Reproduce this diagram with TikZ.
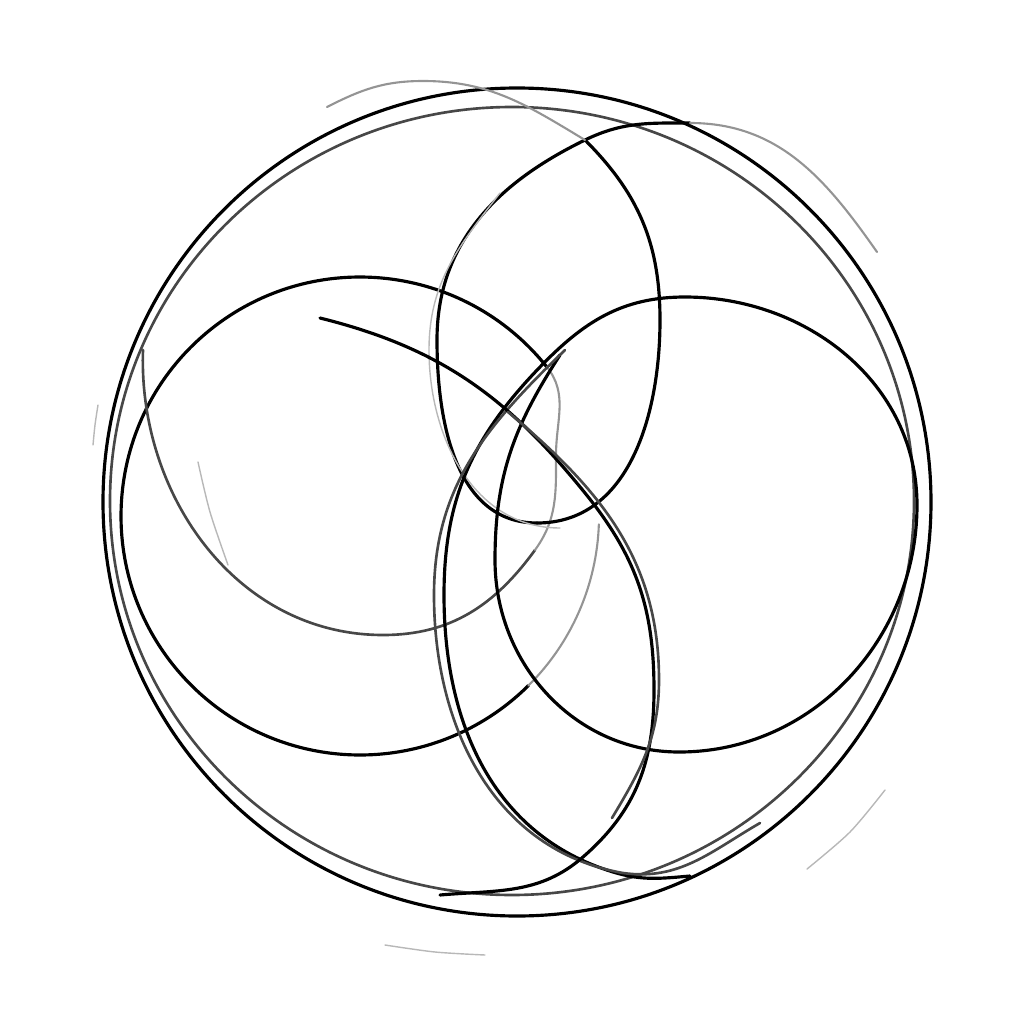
\documentclass[tikz,border=0pt]{standalone}
\usepackage{tikz}

\begin{document}
\begin{tikzpicture}[x=0.01cm, y=-0.01cm, line cap=round, line join=round,
		ink/.style={black, line width=0.9pt},
		halfink/.style={black!72, line width=0.75pt},
		lightink/.style={black!42, line width=0.6pt},
		faintink/.style={black!28, line width=0.4pt}]
			\useasboundingbox (0,0) rectangle (1024,1024);
			\coordinate (outer) at (517,502);
			\coordinate (inner) at (512,501);
			\coordinate (leftc) at (360,516);
			\path (leftc) ++(-38.6:239) coordinate (ajoin);
			\draw[ink] (outer) circle [radius=414];
			\draw[halfink] (inner) ellipse [x radius=402, y radius=394];
			\draw[ink] (ajoin) arc [start angle=-38.6, end angle=-314.8, radius=239] coordinate (aend);
			\draw[lightink] (aend) arc [start angle=-314.8, end angle=-358, radius=239];
			\draw[halfink] (143,350) to[out=-92, in=180] (383,635) to[out=0, in=-126] (535,550);
			\draw[lightink] (535,550) to[out=54, in=-90] (556,455) to[out=90, in=-51] (ajoin);
			\draw[faintink] plot[smooth] coordinates {(198,462) (210,512) (228,565)};
			\draw[ink] (537,523) to[out=180, in=-90] (437,340) to[out=90, in=-154] (585,140) to[out=26, in=180] (690,123);
			\draw[lightink] (690,123) to[out=0, in=125] (877,252);
			\draw[ink] (585,140) to[out=-45, in=90] (660,320) to[out=-90, in=0] (537,523);
			\draw[lightink] (585,140) to[out=149, in=0] (423,81) to[out=180, in=27] (327,107);
			\draw[faintink] (560,528) to[out=180, in=-90] (429,350) to[out=90, in=-128] (500,193);
			\draw[ink] (560,355) to[out=-123, in=90] (495,560) to[out=-90, in=180] (679,752) to[out=0, in=-90] (917,505) to[out=90, in=0] (685,297) to[out=180, in=46] (540,367) to[out=-134, in=90] (444,595) to[out=-90, in=163] (613,872) to[out=-17, in=-175] (690,876);
			\draw[halfink] (565,350) to[out=-136, in=90] (434,595) to[out=-90, in=170] (623,873) to[out=-8, in=-150] (760,823);
			\draw[ink] (320,318) to[out=-14, in=129] (585,493) to[out=-51, in=90] (654,690) to[out=-90, in=41] (583,857) to[out=-139, in=5] (440,895);
			\draw[halfink] (508,412) to[out=-40, in=90] (659,680) to[out=-90, in=59] (612,818);
			\draw[faintink] plot[smooth] coordinates {(98,405) (95,425) (93,445)};
			\draw[faintink] plot[smooth] coordinates {(385,945) (435,952) (485,955)};
			\draw[faintink] plot[smooth] coordinates {(885,790) (850,832) (807,869)};
		\end{tikzpicture}
\end{document}
